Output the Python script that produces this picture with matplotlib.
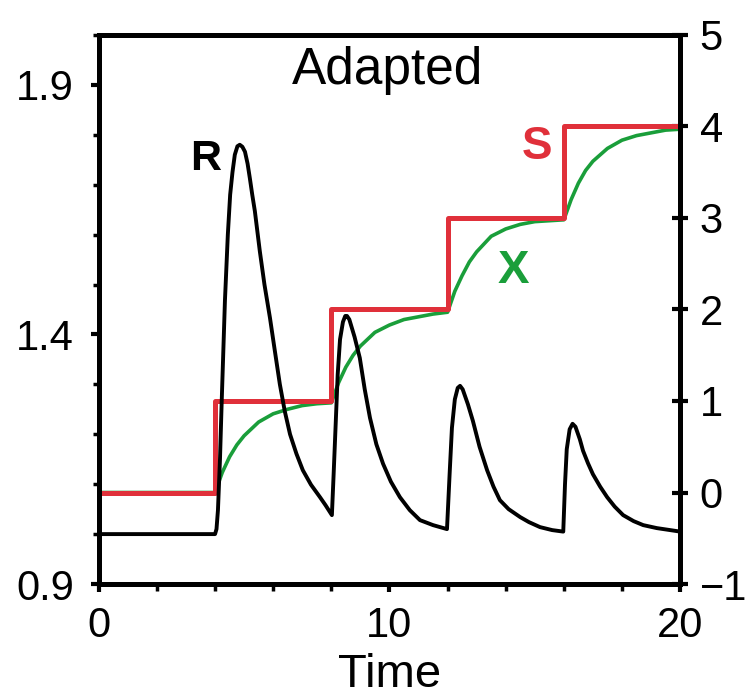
import matplotlib.pyplot as plt
from matplotlib.ticker import MultipleLocator

plt.rcParams['font.family'] = ['Liberation Sans', 'DejaVu Sans']

# response R (left axis)
t_r = [0, 4.0, 4.05, 4.1, 4.17, 4.23, 4.34, 4.44, 4.52, 4.6, 4.68, 4.77, 4.85, 4.94,
       5.03, 5.12, 5.2, 5.28, 5.37, 5.54, 5.7, 5.89, 6.05, 6.23, 6.4, 6.58, 6.8,
       7.02, 7.3, 7.61, 7.8, 8.02,
       8.08, 8.15, 8.22, 8.3, 8.4, 8.48, 8.54, 8.62, 8.8, 8.98, 9.15, 9.33, 9.55,
       9.78, 10.05, 10.36, 10.7, 11.05, 11.5, 11.98,
       12.07, 12.15, 12.25, 12.35, 12.43, 12.52, 12.7, 12.87, 13.1, 13.36, 13.58,
       13.8, 14.1, 14.5, 14.8, 15.18, 15.6, 15.98,
       16.04, 16.1, 16.2, 16.3, 16.4, 16.55, 16.66, 16.83, 17.0, 17.25, 17.49,
       17.75, 18.04, 18.4, 18.73, 19.2, 19.66, 20.0]
r_vals = [1.0, 1.0, 1.01, 1.048, 1.15, 1.267, 1.467, 1.60, 1.68, 1.725, 1.76, 1.777, 1.78, 1.776,
          1.766, 1.742, 1.712, 1.68, 1.647, 1.567, 1.50, 1.433, 1.37, 1.30, 1.246, 1.20, 1.161,
          1.128, 1.099, 1.074, 1.058, 1.038,
          1.12, 1.22, 1.32, 1.39, 1.425, 1.437, 1.437, 1.43, 1.395, 1.353, 1.29, 1.233, 1.18,
          1.141, 1.105, 1.074, 1.048, 1.028, 1.018, 1.01,
          1.12, 1.213, 1.27, 1.293, 1.297, 1.29, 1.26, 1.227, 1.175, 1.128, 1.095,
          1.068, 1.05, 1.034, 1.024, 1.014, 1.008, 1.005,
          1.1, 1.17, 1.21, 1.221, 1.215, 1.19, 1.167, 1.142, 1.12, 1.095, 1.074,
          1.055, 1.038, 1.026, 1.018, 1.012, 1.008, 1.005]

# signal S (right axis)
t_s = [0, 4, 4, 8, 8, 12, 12, 16, 16, 20]
s_vals = [0, 0, 1, 1, 2, 2, 3, 3, 4, 4]

# internal variable X (right axis)
t_x = [0, 4, 4.25, 4.5, 4.75, 5, 5.5, 6, 6.5, 7, 7.5, 8,
       8.25, 8.5, 8.75, 9, 9.5, 10, 10.5, 11, 11.5, 12,
       12.25, 12.5, 12.75, 13, 13.5, 14, 14.5, 15, 15.5, 16,
       16.25, 16.5, 16.75, 17, 17.5, 18, 18.5, 19, 19.5, 20]
x_vals = [0, 0, 0.22, 0.39, 0.52, 0.62, 0.77, 0.86, 0.91, 0.95, 0.97, 0.98,
          1.2, 1.37, 1.5, 1.6, 1.75, 1.83, 1.89, 1.92, 1.95, 1.97,
          2.2, 2.37, 2.52, 2.63, 2.8, 2.88, 2.93, 2.96, 2.97, 2.98,
          3.2, 3.38, 3.52, 3.62, 3.76, 3.85, 3.9, 3.93, 3.96, 3.97]

red = '#e0303a'
green = '#1a9e3a'

fig = plt.figure(figsize=(7.54, 6.99), dpi=100)
ax = fig.add_axes([0.131, 0.1645, 0.771, 0.7855])
ax2 = ax.twinx()

ax2.plot(t_x, x_vals, color=green, lw=2.6)
ax2.plot(t_s, s_vals, color=red, lw=3.6)
ax.plot(t_r, r_vals, color='black', lw=2.8)

# keep R on top of the twin axis
ax.set_zorder(ax2.get_zorder() + 1)
ax.patch.set_visible(False)

ax.set_xlim(0, 20)
ax.set_ylim(0.9, 2.0)
ax2.set_ylim(-1, 5)

ax.set_yticks([0.9, 1.4, 1.9])
ax.yaxis.set_minor_locator(MultipleLocator(0.1))
ax.set_xticks([0, 10, 20])
ax.xaxis.set_minor_locator(MultipleLocator(2))
ax2.set_yticks([-1, 0, 1, 2, 3, 4, 5])
ax2.set_yticklabels(['\u22121', '0', '1', '2', '3', '4', '5'])

for a in (ax, ax2):
    for sp in a.spines.values():
        sp.set_linewidth(3.6)
ax.tick_params(axis='y', which='major', direction='out', length=6, width=3, labelsize=30, pad=12)
ax.tick_params(axis='y', which='minor', direction='out', length=4, width=2.5)
ax.tick_params(axis='x', which='major', direction='out', length=6, width=3, labelsize=30, pad=10)
ax.tick_params(axis='x', which='minor', direction='out', length=5, width=2.5)
ax2.tick_params(axis='y', direction='inout', length=12, width=3, labelsize=30, pad=8)

ax.set_xlabel('Time', fontsize=34, labelpad=5)

ax.text(0.496, 0.936, 'Adapted', transform=ax.transAxes, fontsize=37,
        ha='center', va='center')
ax.text(3.68, 1.752, 'R', fontsize=31, fontweight='bold', ha='center', va='center')
ax2.text(15.08, 3.78, 'S', fontsize=33, fontweight='bold', color=red, ha='center', va='center')
ax2.text(14.25, 2.42, 'X', fontsize=34, fontweight='bold', color=green, ha='center', va='center')

fig.savefig('out.png', dpi=100)
